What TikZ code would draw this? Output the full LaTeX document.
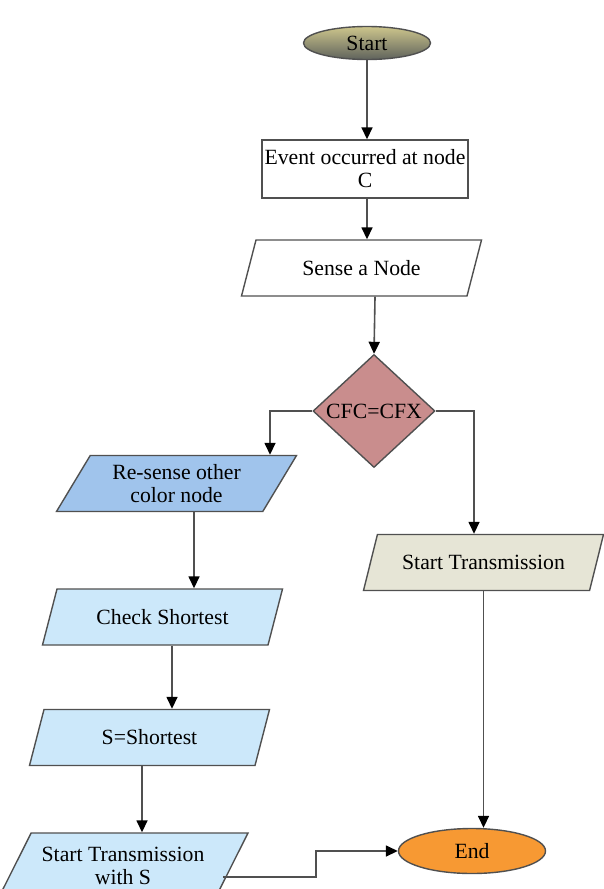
\documentclass[tikz,border=0pt]{standalone}
\usepackage{fontspec}
\setmainfont{Liberation Serif}
\usetikzlibrary{arrows.meta,shapes.geometric}

\definecolor{bordo}{RGB}{80,80,80}
\definecolor{rosa}{RGB}{201,141,141}
\definecolor{azzurro}{RGB}{160,196,236}
\definecolor{celeste}{RGB}{204,232,250}
\definecolor{grigio}{RGB}{230,229,214}
\definecolor{arancio}{RGB}{247,153,51}

\begin{document}
\begin{tikzpicture}[x=1bp, y=-1bp,
  every node/.style={font=\fontsize{21.8}{23}\selectfont, draw=bordo, line width=1.4bp, align=center},
  io/.style={trapezium, trapezium left angle=50, trapezium right angle=130,
    trapezium stretches body, minimum width=240bp, minimum height=56bp, inner sep=1bp},
  arco/.style={draw=bordo, line width=1.6bp, -{Triangle[length=12bp,width=11bp,color=black]}}]
\useasboundingbox (0,0) rectangle (604,889);
 % nodi
  \node (inizio) at (367,43) [ellipse, minimum width=127bp, minimum height=33bp, inner sep=0,
    top color={rgb,255:red,205;green,198;blue,140}, middle color={rgb,255:red,178;green,186;blue,128},
    bottom color={rgb,255:red,95;green,98;blue,92}] {Start};
  \node (evento) at (365,169) [rectangle, minimum width=206bp, minimum height=58bp, inner sep=1bp] {Event occurred at node\\C};
  \node (senso) at (361.5,268) [io] {Sense a Node};
  \node (cfc) at (374,411) [diamond, fill=rosa, minimum width=122bp, minimum height=113bp, inner sep=0] {CFC=CFX};
  \node (risenso) at (176.5,483.5) [io, fill=azzurro] {Re-sense other\\color node};
  \node (verifica) at (162.5,617) [io, fill=celeste] {Check Shortest};
  \node (breve) at (149.5,737.5) [io, fill=celeste] {S=Shortest};
  \node (invio) at (123,866) [io, fill=celeste, minimum width=250bp, minimum height=66bp] {Start Transmission\\with S};
  \node (trasm) at (483.5,562.5) [io, fill=grigio] {Start Transmission};
  \node (fine) at (472,851) [ellipse, fill=arancio, minimum width=147bp, minimum height=45bp, inner sep=0] {End};
  \coordinate (gomito) at (316,0);
 % archi
  \draw[arco] (inizio.south) -- (inizio.south |- evento.north);
  \draw[arco] ([xshift=2bp]evento.south) -- ([xshift=2bp]evento.south |- senso.north);
  \draw[arco] ([xshift=13.5bp]senso.south) -- (cfc.north);
  \draw[arco] (cfc.west) -| ([xshift=93.5bp]risenso.north);
  \draw[arco] (cfc.east) -| ([xshift=-9.5bp]trasm.north);
  \draw[arco] ([xshift=17.5bp]risenso.south) -- ([xshift=17.5bp]risenso.south |- verifica.north);
  \draw[arco] ([xshift=9.5bp]verifica.south) -- ([xshift=9.5bp]verifica.south |- breve.north);
  \draw[arco] ([xshift=-7.5bp]breve.south) -- ([xshift=-7.5bp]breve.south |- invio.north);
  \draw[arco] (trasm.south) -- (trasm.south |- fine.north);
  \draw[arco] ([xshift=-9bp,yshift=-11bp]invio.east) -| (gomito |- fine.west) -- (fine.west);
\end{tikzpicture}
\end{document}
